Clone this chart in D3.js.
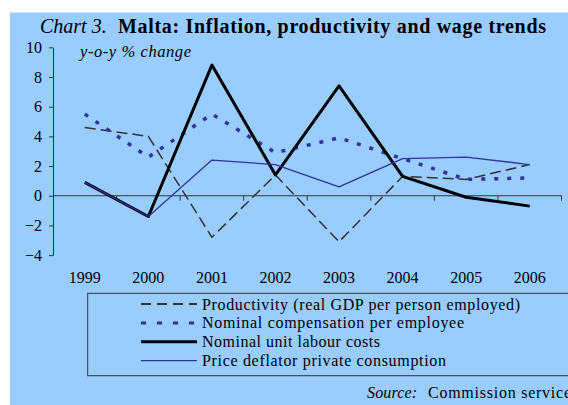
<!DOCTYPE html>
<html>
<head>
<meta charset="utf-8">
<script src="https://cdn.jsdelivr.net/npm/d3@7"></script>
<style>
  body { margin: 0; background: #fff; }
  svg text { font-family: 'Liberation Serif', 'Times New Roman', serif !important; }
</style>
</head>
<body>
<div id="chart"></div>
<script>
const years = ['1999', '2000', '2001', '2002', '2003', '2004', '2005', '2006'];
const productivity = [4.6, 4.0, -2.8, 1.4, -3.1, 1.3, 1.1, 2.1];
const compensation = [5.5, 2.6, 5.5, 2.9, 3.9, 2.5, 1.1, 1.2];
const unitLabourCosts = [0.9, -1.4, 8.8, 1.4, 7.4, 1.3, -0.1, -0.7];
const priceDeflator = [0.9, -1.4, 2.4, 2.1, 0.6, 2.5, 2.6, 2.1];
const yTicks = [-4, -2, 0, 2, 4, 6, 8, 10];
const seriesNames = [
  'Productivity (real GDP per person employed)',
  'Nominal compensation per employee',
  'Nominal unit labour costs',
  'Price deflator private consumption'
];

const width = 568, height = 405;
const bg = '#99ccff';

const svg = d3.select('#chart').append('svg')
  .attr('width', width)
  .attr('height', height);

svg.append('rect')
  .attr('x', 10).attr('y', 12.5)
  .attr('width', width - 10).attr('height', height - 12)
  .attr('fill', bg);

const x = d3.scaleBand().domain(years).range([53, 561.5]);
const y = d3.scaleLinear().domain([-4, 10]).range([255.1, 47.3]);
const cx = d => x(d) + x.bandwidth() / 2;

// title
svg.append('text').attr('x', 40).attr('y', 32.5)
  .attr('font-size', 20).attr('font-style', 'italic')
  .text('Chart 3.');
svg.append('text').attr('x', 118).attr('y', 32.5)
  .attr('font-size', 20).attr('font-weight', 'bold')
  .attr('textLength', 428).attr('lengthAdjust', 'spacing')
  .text('Malta: Inflation, productivity and wage trends');

svg.append('text')
  .attr('x', 80).attr('y', 57)
  .attr('font-size', 16.5).attr('font-style', 'italic')
  .attr('textLength', 111).attr('lengthAdjust', 'spacing')
  .text('y-o-y % change');

// y axis
const yAxis = svg.append('g')
  .attr('transform', 'translate(53,0)')
  .call(d3.axisLeft(y).tickValues(yTicks).tickSize(4).tickSizeOuter(0).tickPadding(7));
yAxis.select('.domain').attr('stroke', '#333');
yAxis.selectAll('.tick line').attr('stroke', '#333');
yAxis.selectAll('.tick text')
  .attr('font-size', 16).attr('fill', '#000');

// x axis at zero
const xAxis = svg.append('g').attr('transform', `translate(0,${y(0)})`);
xAxis.append('line')
  .attr('x1', x.range()[0]).attr('x2', x.range()[1])
  .attr('stroke', '#333').attr('stroke-width', 1.2);
xAxis.selectAll('.xt')
  .data(years.map(d => x(d)).concat([x.range()[1]]).slice(1))
  .join('line')
  .attr('x1', d => d).attr('x2', d => d)
  .attr('y1', 0).attr('y2', 5)
  .attr('stroke', '#333');

svg.append('g').selectAll('text')
  .data(years)
  .join('text')
  .attr('x', d => cx(d)).attr('y', 283)
  .attr('text-anchor', 'middle')
  .attr('font-size', 16)
  .text(d => d);

// series
const line = d3.line().x((d, i) => cx(years[i])).y(d => y(d));

const styles = [
  { data: productivity, stroke: '#333333', width: 1.5, dash: '11,5' },
  { data: compensation, stroke: '#333399', width: 3.5, dash: '4,9' },
  { data: unitLabourCosts, stroke: '#000000', width: 3, dash: null },
  { data: priceDeflator, stroke: '#333399', width: 1.3, dash: null }
];

svg.append('g').selectAll('path')
  .data(styles)
  .join('path')
  .attr('d', d => line(d.data))
  .attr('fill', 'none')
  .attr('stroke', d => d.stroke)
  .attr('stroke-width', d => d.width)
  .attr('stroke-dasharray', d => d.dash)
  .attr('stroke-linejoin', 'round');

// legend
const legend = svg.append('g');
legend.append('rect')
  .attr('x', 87.7).attr('y', 293.3)
  .attr('width', 500).attr('height', 82.4)
  .attr('fill', 'none').attr('stroke', '#333').attr('stroke-width', 1);

const legendDash = ['10,6', '5,11', null, null];
const legendWidth = [2, 3, 3, 1.3];
const legendTextLen = [318, 262, 178, 244];
const rows = legend.selectAll('g.row')
  .data(seriesNames)
  .join('g')
  .attr('transform', (d, i) => `translate(0,${304 + i * 18.9})`);
rows.append('line')
  .attr('x1', 141).attr('x2', 197)
  .attr('stroke', (d, i) => styles[i].stroke)
  .attr('stroke-width', (d, i) => legendWidth[i])
  .attr('stroke-dasharray', (d, i) => legendDash[i]);
rows.append('text')
  .attr('x', 202).attr('y', 5.5)
  .attr('font-size', 16)
  .attr('textLength', (d, i) => legendTextLen[i])
  .attr('lengthAdjust', 'spacing')
  .text(d => d);

// source (cut off at the right edge, as in the original)
svg.append('text').attr('x', 367).attr('y', 397.5)
  .attr('font-size', 16).attr('font-style', 'italic')
  .attr('textLength', 50).attr('lengthAdjust', 'spacing')
  .text('Source:');
svg.append('text').attr('x', 428).attr('y', 397.5)
  .attr('font-size', 16)
  .attr('textLength', 150).attr('lengthAdjust', 'spacing')
  .text('Commission services');
</script>
</body>
</html>
